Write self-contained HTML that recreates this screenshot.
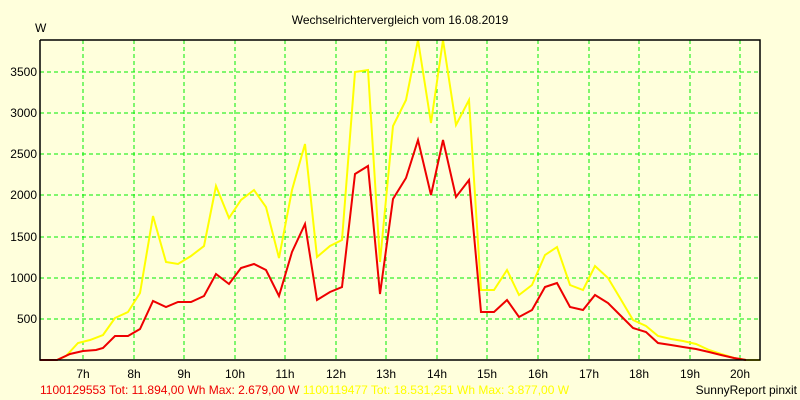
<!DOCTYPE html><html><head><style>body{margin:0;background:#ffffdc;}svg{display:block;font-family:"Liberation Sans",sans-serif;}</style></head><body>
<svg width="800" height="400" xmlns="http://www.w3.org/2000/svg">
<rect width="800" height="400" fill="#ffffdc"/>
<text x="400" y="24" font-size="12" text-anchor="middle">Wechselrichtervergleich vom 16.08.2019</text>
<text x="35" y="32" font-size="12">W</text>
<g stroke="#00ee00" stroke-dasharray="4,3" stroke-width="1">
<line x1="40" x2="760" y1="319" y2="319"/><line x1="40" x2="760" y1="278" y2="278"/><line x1="40" x2="760" y1="237" y2="237"/><line x1="40" x2="760" y1="195" y2="195"/><line x1="40" x2="760" y1="154" y2="154"/><line x1="40" x2="760" y1="113" y2="113"/><line x1="40" x2="760" y1="72" y2="72"/>
<line y1="40" y2="360" x1="83" x2="83"/><line y1="40" y2="360" x1="134" x2="134"/><line y1="40" y2="360" x1="184" x2="184"/><line y1="40" y2="360" x1="235" x2="235"/><line y1="40" y2="360" x1="285" x2="285"/><line y1="40" y2="360" x1="336" x2="336"/><line y1="40" y2="360" x1="386" x2="386"/><line y1="40" y2="360" x1="437" x2="437"/><line y1="40" y2="360" x1="487" x2="487"/><line y1="40" y2="360" x1="538" x2="538"/><line y1="40" y2="360" x1="589" x2="589"/><line y1="40" y2="360" x1="639" x2="639"/><line y1="40" y2="360" x1="690" x2="690"/><line y1="40" y2="360" x1="740" x2="740"/>
</g>
<g font-size="12" text-anchor="end"><text x="37" y="323">500</text><text x="37" y="282">1000</text><text x="37" y="241">1500</text><text x="37" y="199">2000</text><text x="37" y="158">2500</text><text x="37" y="117">3000</text><text x="37" y="76">3500</text></g>
<g font-size="12" text-anchor="middle"><text x="83" y="378">7h</text><text x="134" y="378">8h</text><text x="184" y="378">9h</text><text x="235" y="378">10h</text><text x="285" y="378">11h</text><text x="336" y="378">12h</text><text x="386" y="378">13h</text><text x="437" y="378">14h</text><text x="487" y="378">15h</text><text x="538" y="378">16h</text><text x="589" y="378">17h</text><text x="639" y="378">18h</text><text x="690" y="378">19h</text><text x="740" y="378">20h</text></g>
<polyline fill="none" stroke="#ffff00" stroke-width="2" points="40,360 57,360 66,356 78,343 90,340 103,335 115,318 128,312 140,293 153,216 166,262 178,264 191,256 204,246 216,186 229,218 241,200 254,190 266,207 279,258 292,190 305,144 317,257 330,246 342,240 355,72 368,70 380,262 393,126 406,100 418,40 431,123 443,40 456,125 469,100 481,290 494,290 507,270 519,295 532,285 545,255 557,247 570,285 583,290 595,266 608,278 620,298 633,320 646,326 658,336 671,339 683,341 696,344 709,350 721,354 734,358 746,360 760,360"/>
<polyline fill="none" stroke="#ee0000" stroke-width="2" points="40,360 57,360 70,354 83,351 96,350 103,348 115,336 128,336 140,329 153,301 166,307 178,302 191,302 204,296 216,274 229,284 241,268 254,264 266,270 279,296 292,252 305,224 317,300 330,292 342,287 355,174 368,166 380,294 393,199 406,178 418,140 431,195 443,140 456,197 469,180 481,312 494,312 507,300 519,317 532,310 545,287 557,283 570,307 583,310 595,295 608,303 620,315 633,328 646,332 658,343 671,345 683,347 696,349 709,352 721,355 734,358 746,360"/>
<polyline fill="none" stroke="#000" stroke-width="1.5" points="40,40 40,360 760,360 760,40 40,40"/>
<text x="40" y="394" font-size="12"><tspan fill="#ee0000">1100129553 Tot: 11.894,00 Wh Max: 2.679,00 W </tspan><tspan fill="#ffff00">1100119477 Tot: 18.531,251 Wh Max: 3.877,00 W</tspan></text>
<text x="797" y="394" font-size="12" text-anchor="end">SunnyReport pinxit</text>
</svg></body></html>
